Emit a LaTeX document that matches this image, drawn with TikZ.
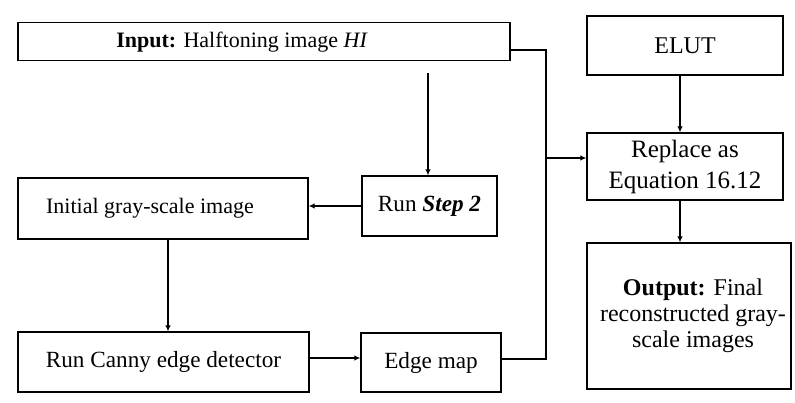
\documentclass[tikz,border=0pt]{standalone}
\usepackage{fontspec}
\setmainfont{Liberation Serif}
\usetikzlibrary{arrows.meta,calc}
\begin{document}
\begin{tikzpicture}[x=1pt,y=-1pt,
  box/.style={draw=black,line width=1.3pt,inner sep=0pt,align=center,font=\fontsize{22}{26}\selectfont},
  mbox/.style={box,font=\fontsize{23.2}{26}\selectfont},
  rbox/.style={box,font=\fontsize{24}{26}\selectfont},
  conn/.style={draw=black,line width=1.1pt},
  arr/.style={conn,-{Latex[length=6pt,width=5.5pt]}}]
\useasboundingbox (0,0) rectangle (795,402);
\fill[white] (0,0) rectangle (795,402);
\node[box,minimum width=492,minimum height=38] (input) at (264,41.8) {\textbf{Input:} Halftoning image \textit{HI}\hspace{44pt}};
\node[box,minimum width=290,minimum height=61] (init) at (163,208.5) {Initial gray-scale image\hspace{26pt}};
\node[mbox,minimum width=135,minimum height=60] (step) at (429.5,206) {Run \textit{\textbf{Step 2}}};
\node[mbox,minimum width=291,minimum height=60] (canny) at (163.5,362) {Run Canny edge detector};
\node[mbox,minimum width=140,minimum height=59] (edge) at (431,362.5) {Edge map};
\node[rbox,minimum width=196,minimum height=59] (elut) at (685,45.5) {ELUT};
\node[rbox,minimum width=196,minimum height=67,font=\fontsize{25}{31}\selectfont] (repl) at (685,166.5) {Replace as\\Equation 16.12};
\node[rbox,minimum width=204,minimum height=146] (out) at (689,316) {\hspace*{8pt}\textbf{Output:} Final\\\hspace*{8pt}reconstructed gray-\\\hspace*{8pt}scale images};
\coordinate (j1) at (546,50);
\coordinate (j2) at (546,359);
\coordinate (jr) at (546,158);
\coordinate (c1) at (428,73);
\draw[conn] (j1 -| input.east) -- (j1) -- (j2) -- (j2 -| edge.east);
\draw[arr] (jr) -- (jr -| repl.west);
\draw[arr] (c1) -- (c1 |- step.north);
\draw[arr] (step.west) -- (step.west -| init.east);
\draw[arr] ([xshift=5pt]init.south) -- ([xshift=5pt]init.south |- canny.north);
\draw[arr] ([yshift=4pt]canny.east) -- ([yshift=4pt]canny.east -| edge.west);
\draw[arr] ([xshift=-5pt]elut.south) -- ([xshift=-5pt]elut.south |- repl.north);
\draw[arr] ([xshift=-5pt]repl.south) -- ([xshift=-5pt]repl.south |- out.north);
\end{tikzpicture}
\end{document}
